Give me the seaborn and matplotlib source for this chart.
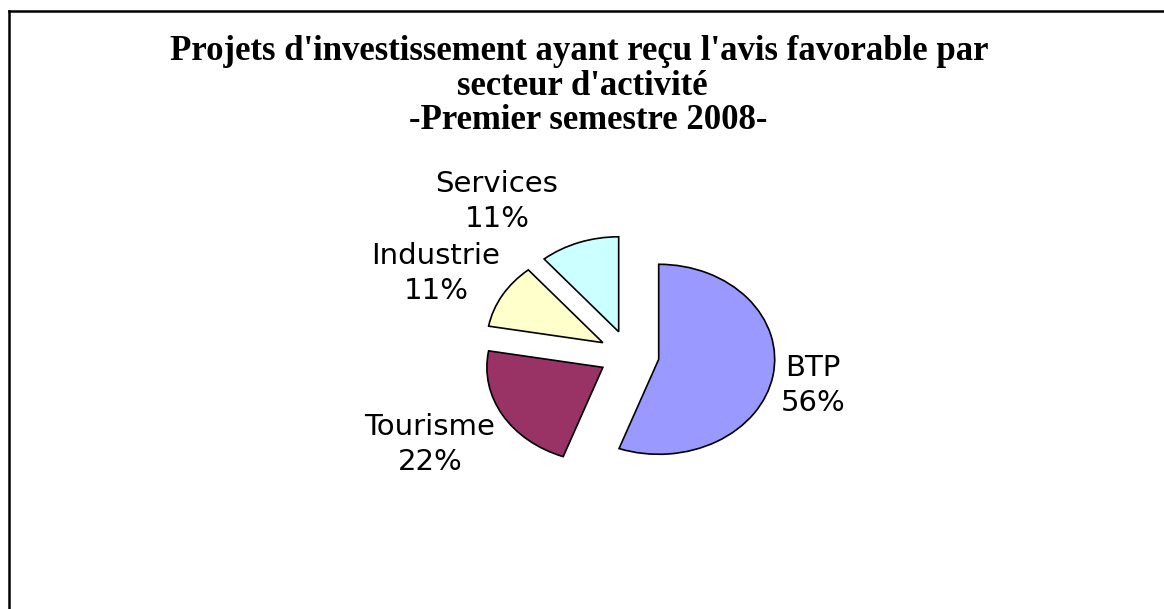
import matplotlib
matplotlib.use("Agg")
import matplotlib.pyplot as plt
from matplotlib.lines import Line2D
import seaborn as sns

# ---- data ----
sectors = ["BTP", "Tourisme", "Industrie", "Services"]
projects = [5, 2, 1, 1]
sector_colors = ["#9999FF", "#993366", "#FFFFCC", "#CCFFFF"]
title_lines = [
    "Projets d'investissement ayant reçu l'avis favorable par",
    "secteur d'activité",
    "-Premier semestre 2008-",
]

sns.set_theme(style="white")
plt.rcParams["font.family"] = ["DejaVu Sans"]

W, H = 1164, 609
fig = plt.figure(figsize=(W / 100, H / 100), dpi=100)
fig.patch.set_facecolor("white")

# pie centre at (629, 355) px; x unit 116 px, y unit 95 px (stretched pie)
ax_w, ax_h = 6 * 116, 5 * 95
cx, cy = 629, 355
ax = fig.add_axes([(cx - ax_w / 2) / W, (H - cy - ax_h / 2) / H, ax_w / W, ax_h / H])

total = sum(projects)
labels = [f"{s}\n{v / total:.0%}" for s, v in zip(sectors, projects)]
pal = sns.color_palette(sector_colors)

wedges, texts = ax.pie(
    projects,
    labels=labels,
    colors=pal,
    explode=[0.26] * len(projects),
    startangle=90,
    counterclock=False,
    wedgeprops=dict(edgecolor="black", linewidth=1.2),
    textprops=dict(fontsize=21, color="black", linespacing=1.32,
                   multialignment="center"),
)
ax.set_aspect("auto")
ax.set_xlim(-3, 3)
ax.set_ylim(-2.5, 2.5)
ax.axis("off")

# label layout (last-line baseline, block centre) in pixels
label_px = [(813, 411), (430, 470), (436, 299), (497, 227)]
for t, (px, py) in zip(texts, label_px):
    t.set_position(((px - cx) / 116, (cy - py) / 95))
    t.set_horizontalalignment("center")
    t.set_verticalalignment("baseline")

# title
for line, xc, base in zip(title_lines, [579, 582, 588], [60, 95, 129]):
    fig.text(xc / W, 1 - base / H, line, ha="center", va="baseline",
             fontsize=25, fontweight="bold", family=["Liberation Serif", "DejaVu Serif"],
             color="black")

# chart-area border (top and left visible)
fig.add_artist(Line2D([8.5 / W, 8.5 / W], [0, 1 - 10.5 / H], transform=fig.transFigure,
                      color="black", lw=1.8, solid_capstyle="projecting"))
fig.add_artist(Line2D([8.5 / W, 1], [1 - 10.5 / H, 1 - 10.5 / H], transform=fig.transFigure,
                      color="black", lw=1.8, solid_capstyle="projecting"))

fig.savefig("out.png", dpi=100, facecolor="white")
